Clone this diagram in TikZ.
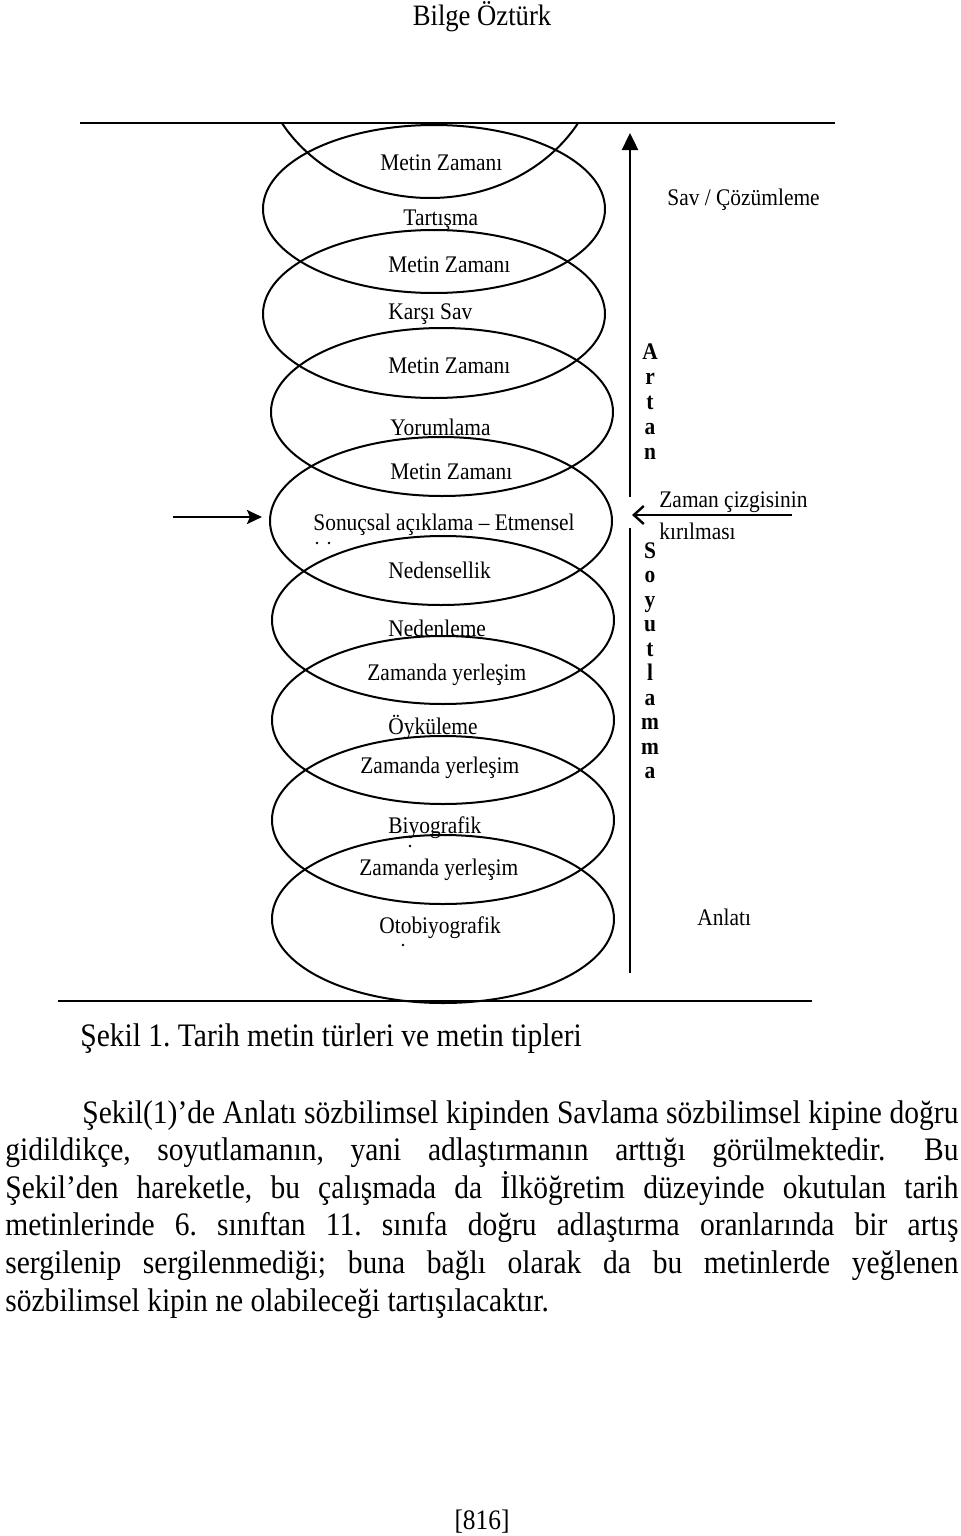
\documentclass[tikz,border=0pt]{standalone}
\usepackage{fontspec}
\setmainfont{Liberation Serif}[FakeStretch=0.9]
\usetikzlibrary{shapes.geometric,arrows.meta}
\frenchspacing
\tikzset{
  ell/.style={draw, ellipse, line width=1pt, minimum width=171pt, minimum height=84pt, inner sep=0pt},
  lab/.style={anchor=west, inner sep=0pt, font=\fontsize{11.9}{14}\selectfont},
  bl/.style={anchor=base, inner sep=0pt, font=\bfseries\fontsize{11.9}{14}\selectfont},
  hrule/.style={line width=1.2pt},
  axisline/.style={line width=1.2pt},
  bodytext/.style={anchor=base west, inner sep=0pt, font=\frenchspacing\fontsize{16.4}{20}\selectfont},
  dotmark/.style={circle, fill, inner sep=0pt, minimum size=1.3pt}
}
\begin{document}
\begin{tikzpicture}[x=0.5pt,y=-0.5pt]
\useasboundingbox (0,0) rectangle (960,1536);

% header
\node[anchor=base, inner sep=0pt, font=\fontsize{14.8}{18}\selectfont] (title) at (482,26) {Bilge Öztürk};

% rules
\coordinate (tl) at (80,123);  \coordinate (tr) at (835,123);
\coordinate (bl0) at (58,1001); \coordinate (br0) at (812,1001);
\draw[hrule] (tl) -- (tr);
\draw[hrule] (bl0) -- (br0);

% clipped top ellipse
\begin{scope}
  \clip (0,123) rectangle (960,400);
  \node[ell, minimum height=150pt] (e0) at (430,48) {};
\end{scope}

% ellipses
\node[ell] (e1) at (434,209) {};
\node[ell] (e2) at (434,314) {};
\node[ell] (e3) at (442,412) {};
\node[ell] (e4) at (441,521) {};
\node[ell] (e5) at (443,620) {};
\node[ell] (e6) at (443,720) {};
\node[ell] (e7) at (443,820) {};
\node[ell] (e8) at (443,919) {};

% ellipse texts
\node[lab] (t1)  at (380,163) {Metin Zamanı};
\node[lab] (t2)  at (403,220) {Tartışma};
\node[lab] (t3)  at (388,265) {Metin Zamanı};
\node[lab] (t4)  at (388,314) {Karşı Sav};
\node[lab] (t5)  at (388,366) {Metin Zamanı};
\node[lab] (t6)  at (390,427) {Yorumlama};
\node[lab] (t7)  at (390,472) {Metin Zamanı};
\node[lab] (t8)  at (313,525) {Sonuçsal açıklama – Etmensel};
\node[lab] (t9)  at (388,570) {Nedensellik};
\node[lab] (t10) at (388,628) {Nedenleme};
\node[lab] (t11) at (367,675) {Zamanda yerleşim};
\node[lab] (t12) at (388,727) {Öyküleme};
\node[lab] (t13) at (360,768) {Zamanda yerleşim};
\node[lab] (t14) at (388,828) {Biyografik};
\node[lab] (t15) at (359,870) {Zamanda yerleşim};
\node[lab] (t16) at (379,928) {Otobiyografik};

% small dots (clipped text remnants)
\node[dotmark] (d1) at (317,543) {};
\node[dotmark] (d2) at (329,543) {};
\node[dotmark] (d3) at (410,846) {};
\node[dotmark] (d4) at (403,945) {};

% vertical axis
\coordinate (va) at (630,497); \coordinate (vt) at (630,133);
\draw[axisline, -{Triangle[length=8.5pt,width=8pt]}] (va) -- (vt);
\coordinate (vb1) at (630,528); \coordinate (vb2) at (630,973);
\draw[axisline] (vb1) -- (vb2);

% Artan / Soyutlamma
\foreach \ch [count=\i from 0] in {A,r,t,a,n}
  \node[bl] (art\i) at (650,{359+25*\i}) {\ch};
\foreach \ch [count=\i from 0] in {S,o,y,u,t,l,a,m,m,a}
  \node[bl] (soy\i) at (650,{558+24.5*\i}) {\ch};

% right labels
\node[lab] (sav) at (667,200) {Sav / Çözümleme};
\node[lab] (anl) at (697,917) {Anlatı};
\node[lab] (zc1) at (659,502) {Zaman çizgisinin};
\node[lab] (zc2) at (659,531) {kırılması};

% arrows
\coordinate (hs) at (792,515); \coordinate (he) at (632,515);
\draw[axisline, -{Straight Barb[length=5pt,width=9pt]}] (hs) -- (he);
\coordinate (ls) at (173,517);
\coordinate (le) at (262,517);
\draw[axisline, -{Stealth[length=7.5pt,width=7pt,inset=1.5pt]}] (ls) -- (le);

% caption
\node[bodytext] (cap) at (80,1046) {Şekil 1. Tarih metin türleri ve metin tipleri};

% body paragraph
\node[bodytext] (p1) at (82,1123) {\makebox[438pt][s]{Şekil(1)’de Anlatı sözbilimsel kipinden Savlama sözbilimsel kipine doğru}};
\node[bodytext] (p2) at (5,1160.6) {\makebox[476.5pt][s]{gidildikçe, soyutlamanın, yani adlaştırmanın arttığı görülmektedir.\hspace{6pt} Bu}};
\node[bodytext] (p3) at (5,1198.2) {\makebox[476.5pt][s]{Şekil’den hareketle, bu çalışmada da İlköğretim düzeyinde okutulan tarih}};
\node[bodytext] (p4) at (5,1235.8) {\makebox[476.5pt][s]{metinlerinde 6. sınıftan 11. sınıfa doğru adlaştırma oranlarında bir artış}};
\node[bodytext] (p5) at (5,1273.4) {\makebox[476.5pt][s]{sergilenip sergilenmediği; buna bağlı olarak da bu metinlerde yeğlenen}};
\node[bodytext] (p6) at (5,1311) {sözbilimsel kipin ne olabileceği tartışılacaktır.};

% page number
\node[anchor=base, inner sep=0pt, font=\fontsize{14.1}{17}\selectfont] (pg) at (482,1529) {[816]};
\end{tikzpicture}
\end{document}
